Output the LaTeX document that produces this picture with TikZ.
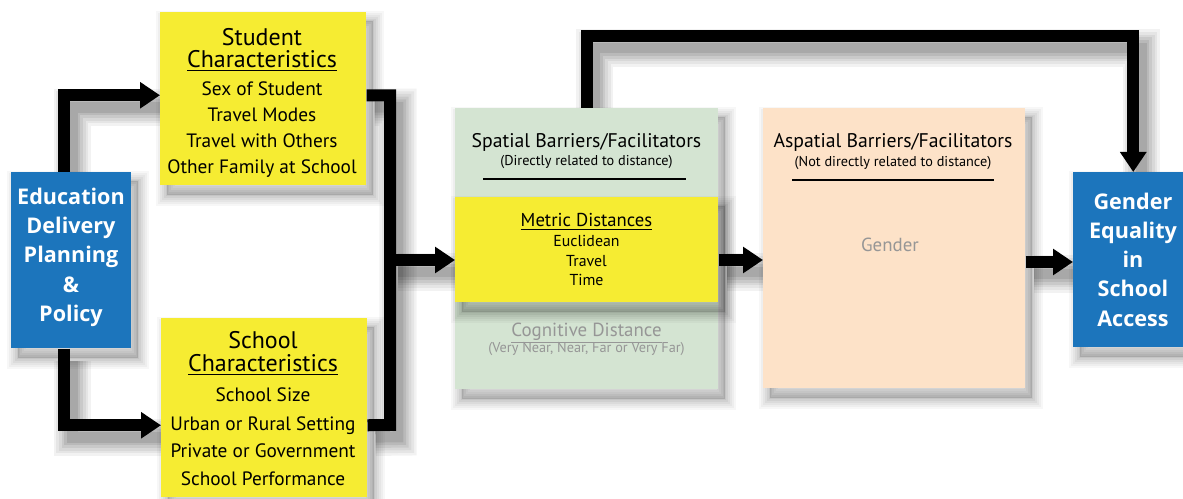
\documentclass[tikz,border=0pt]{standalone}
\usepackage{fontspec}
\setmainfont{PT Sans}
\newfontfamily\blfont{Open Sans}
\usetikzlibrary{arrows.meta,calc}
\pgfdeclarelayer{shadow}
\pgfdeclarelayer{back}
\pgfdeclarelayer{mshadow}
\pgfsetlayers{shadow,back,mshadow,main}
\definecolor{bluebox}{RGB}{28,117,188}
\definecolor{yell}{RGB}{246,236,50}
\definecolor{greenbox}{RGB}{212,228,210}
\definecolor{peach}{RGB}{253,226,200}
\definecolor{greytext}{RGB}{150,150,150}
\newcommand\myboxshadow[2]{%
  \begin{pgfonlayer}{#1}\begin{scope}[transform canvas={shift={(5pt,-7pt)}}]
    \path[bsh] (#2.north west) rectangle (#2.south east);
  \end{scope}\end{pgfonlayer}}
\newcommand\mycon[2]{%
  \begin{pgfonlayer}{shadow}\begin{scope}[transform canvas={shift={(6pt,-9pt)}}]
    \path[lsh] #2;
  \end{scope}\end{pgfonlayer}
  \draw[#1] #2;}
\begin{document}
\begin{tikzpicture}[x=0.75pt,y=-0.75pt,
  box/.style={inner sep=0pt, anchor=north west},
  bsh/.style={
    preaction={draw=black, draw opacity=0.03, line width=16pt},
    preaction={draw=black, draw opacity=0.035, line width=13pt},
    preaction={draw=black, draw opacity=0.04, line width=10pt},
    preaction={draw=black, draw opacity=0.045, line width=7pt},
    preaction={draw=black, draw opacity=0.05, line width=4pt},
    preaction={draw=black, draw opacity=0.05, line width=1.5pt},
    preaction={fill=black, fill opacity=0.14}},
  lsh/.style={
    preaction={draw=black, draw opacity=0.05, line width=28pt},
    preaction={draw=black, draw opacity=0.055, line width=24pt},
    preaction={draw=black, draw opacity=0.06, line width=20pt},
    preaction={draw=black, draw opacity=0.07, line width=16pt},
    preaction={draw=black, draw opacity=0.08, line width=12pt},
    preaction={draw=black, draw opacity=0.09, line width=8pt}},
  txt/.style={inner sep=0pt, anchor=base},
  hd/.style={txt, font=\fontsize{18}{18}\selectfont},
  itm/.style={txt, font=\fontsize{14.5}{14.5}\selectfont},
  bl/.style={txt, text=white, font=\blfont\bfseries\fontsize{16.2}{16.2}\selectfont},
  sh/.style={txt, font=\fontsize{14.8}{14.8}\selectfont},
  sub/.style={txt, font=\fontsize{10.7}{10.7}\selectfont},
  sm/.style={txt, font=\fontsize{11.9}{11.9}\selectfont},
  line/.style={line width=9pt, draw=black},
  arr/.style={line, -{Triangle[length=15pt,width=19pt]}},
  rule/.style={line width=0.9pt}
]
\useasboundingbox (0,0) rectangle (1183,499);

% boxes
\node[box, fill=bluebox, minimum width=90pt, minimum height=132pt] (edp) at (11,172) {};
\node[box, fill=yell, minimum width=154.5pt, minimum height=129.75pt] (stu) at (160,12) {};
\node[box, fill=yell, minimum width=154.5pt, minimum height=134.25pt] (sch) at (161,318) {};
\begin{pgfonlayer}{back}
\node[box, fill=greenbox, minimum width=197.25pt, minimum height=210.75pt] (spa) at (455,108) {};
\end{pgfonlayer}
\node[box, fill=yell, minimum width=197.25pt, minimum height=78.75pt] (met) at (455,197) {};
\node[box, fill=peach, minimum width=196.5pt, minimum height=210pt] (asp) at (763,108) {};
\node[box, fill=bluebox, minimum width=90pt, minimum height=131.25pt] (geq) at (1073,172) {};

\myboxshadow{shadow}{edp}
\myboxshadow{shadow}{stu}
\myboxshadow{shadow}{sch}
\myboxshadow{shadow}{spa}
\myboxshadow{mshadow}{met}
\myboxshadow{shadow}{asp}
\myboxshadow{shadow}{geq}

% connectors
\coordinate (j) at (390,260);
\mycon{arr}{($(edp.north)+(-7,0)$) |- ($(stu.west)+(0,-3.5)$)}
\mycon{arr}{($(edp.south)+(-7,0)$) |- ($(sch.west)+(0,17.5)$)}
\mycon{line}{($(stu.east)+(0,-3.5)$) -| (j |- 0,425) -- ($(sch.east)+(0,17.5)$)}
\mycon{arr}{(j) -- (met.west |- j)}
\mycon{arr}{(met.east |- j) -- (asp.west |- j)}
\mycon{arr}{($(asp.east |- j)+(0,2)$) -- ($(geq.west |- j)+(0,2)$)}
\mycon{arr}{(spa.north) |- (geq.north |- 0,36) -- (geq.north)}

% left blue
\foreach \t/\y [count=\i] in {Education/205, Delivery/234, Planning/263, \&/292, Policy/321}
  \node[bl] (edp-\i) at (71,\y) {\t};
% right blue
\foreach \t/\y [count=\i] in {Gender/210, Equality/239, in/268, School/297, Access/326}
  \node[bl] (geq-\i) at (1133,\y) {\t};

% student
\node[hd] (stu-1) at (262,46) {Student};
\node[hd] (stu-2) at (262,68) {\underline{Characteristics}};
\foreach \t/\y [count=\i from 3] in {Sex of Student/96, Travel Modes/122, Travel with Others/148, Other Family at School/174}
  \node[itm] (stu-\i) at (262,\y) {\t};

% school
\node[hd] (sch-1) at (263,349) {School};
\node[hd] (sch-2) at (263,372) {\underline{Characteristics}};
\foreach \t/\y [count=\i from 3] in {School Size/402, Urban or Rural Setting/430, Private or Government/457, School Performance/485}
  \node[itm] (sch-\i) at (263,\y) {\t};

% spatial
\node[sh] (spa-1) at (586.5,148) {Spatial Barriers/Facilitators};
\node[sub] (spa-2) at (586.5,166) {(Directly related to distance)};
\draw[rule] (483,179) coordinate (spl) -- (686,179) coordinate (spr);
\node[sh, font=\fontsize{14}{14}\selectfont] (met-1) at (586.5,227) {\underline{Metric Distances}};
\foreach \t/\y [count=\i from 2] in {Euclidean/247, Travel/267, Time/286}
  \node[sm] (met-\i) at (586.5,\y) {\t};
\node[sh, text=greytext, font=\fontsize{14.2}{14.2}\selectfont] (spa-3) at (586.5,336) {\underline{Cognitive Distance}};
\node[sub, text=greytext] (spa-4) at (586.5,353) {(Very Near, Near, Far or Very Far)};

% aspatial
\node[sh] (asp-1) at (893,148) {Aspatial Barriers/Facilitators};
\node[sub] (asp-2) at (893,167) {(Not directly related to distance)};
\draw[rule] (792,180) coordinate (apl) -- (994,180) coordinate (apr);
\node[sh, text=greytext, font=\fontsize{14.2}{14.2}\selectfont] (asp-3) at (890,252) {Gender};
\end{tikzpicture}
\end{document}
